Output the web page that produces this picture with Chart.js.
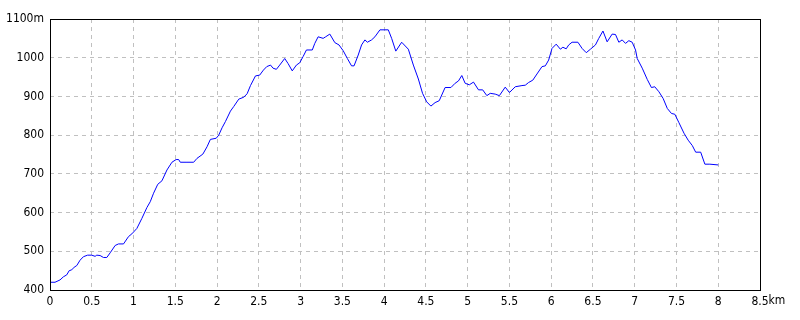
<!DOCTYPE html>
<html>
<head>
<meta charset="utf-8">
<script src="https://cdn.jsdelivr.net/npm/chart.js@4"></script>
<style>
  html, body { margin: 0; padding: 0; background: #fff; }
  #wrap { width: 800px; height: 320px; }
</style>
</head>
<body>
<div id="wrap"><canvas id="profileChart"></canvas></div>
<script>
// distance (km) and elevation (m)
const distKm = [
  0, 0.06, 0.12, 0.16, 0.2, 0.23, 0.26, 0.29, 0.32, 0.36, 0.4, 0.45, 0.5, 0.54, 0.56, 0.6, 0.64, 0.68,
  0.72, 0.78, 0.82, 0.88, 0.94, 0.98, 1.04, 1.1, 1.16, 1.2, 1.24, 1.29, 1.34, 1.4, 1.46, 1.51, 1.54,
  1.56, 1.64, 1.72, 1.76, 1.83, 1.88, 1.92, 1.99, 2.02, 2.06, 2.1, 2.16, 2.2, 2.26, 2.32, 2.36, 2.4,
  2.46, 2.51, 2.555, 2.595, 2.64, 2.67, 2.71, 2.75, 2.81, 2.85, 2.9, 2.95, 2.99, 3.03, 3.07, 3.14,
  3.17, 3.21, 3.27, 3.3, 3.35, 3.41, 3.46, 3.51, 3.56, 3.61, 3.64, 3.69, 3.73, 3.77, 3.8, 3.85, 3.89,
  3.95, 4.05, 4.09, 4.14, 4.21, 4.29, 4.35, 4.41, 4.46, 4.51, 4.56, 4.61, 4.66, 4.73, 4.8, 4.85, 4.89,
  4.93, 4.97, 5.02, 5.07, 5.13, 5.18, 5.23, 5.27, 5.33, 5.38, 5.45, 5.5, 5.57, 5.65, 5.69, 5.73, 5.78,
  5.83, 5.89, 5.93, 5.97, 6.01, 6.06, 6.11, 6.14, 6.18, 6.21, 6.25, 6.32, 6.37, 6.42, 6.47, 6.53, 6.57,
  6.62, 6.67, 6.73, 6.77, 6.81, 6.85, 6.89, 6.93, 6.97, 7.01, 7.03, 7.09, 7.15, 7.2, 7.24, 7.29, 7.34,
  7.39, 7.44, 7.48, 7.53, 7.59, 7.64, 7.69, 7.73, 7.79, 7.84, 7.9, 8.0
];
const elevM = [
  420, 420, 426, 434, 439, 450, 452, 459, 463, 477, 486, 490, 490, 487, 490, 489, 484, 484,
  496, 515, 519, 519, 538, 545, 559, 585, 613, 628, 650, 673, 682, 710, 730, 737, 737,
  730, 730, 730, 740, 751, 770, 789, 792, 800, 819, 835, 862, 874, 893, 898, 907, 928,
  953, 955, 968, 977, 981, 973, 970, 981, 998, 985, 966, 981, 987, 1003, 1020, 1020,
  1037, 1054, 1050, 1054, 1061, 1039, 1033, 1018, 998, 979, 979, 1007, 1033, 1046, 1040, 1046, 1054,
  1072, 1072, 1050, 1017, 1040, 1022, 981, 945, 908, 886, 875, 884, 889, 923, 923, 934, 940,
  954, 934, 930, 937, 917, 917, 902, 908, 906, 902, 924, 910, 925, 928, 929, 936, 942,
  958, 977, 979, 994, 1024, 1035, 1022, 1027, 1023, 1033, 1040, 1040, 1024, 1013, 1022, 1033, 1050,
  1069, 1041, 1061, 1060, 1040, 1046, 1037, 1044, 1040, 1020, 998, 973, 944, 923, 925, 912, 895,
  869, 856, 854, 832, 805, 787, 773, 756, 756, 725, 725, 723
];
const xUnit = 'km';
const yUnit = 'm';

const tickFont = { family: '"Liberation Sans Narrow", "DejaVu Sans Condensed", sans-serif', size: 12 };

const frameBox = {
  id: 'frameBox',
  afterDraw(chart) {
    const { ctx, chartArea: a, scales } = chart;
    ctx.save();
    ctx.strokeStyle = '#000';
    ctx.lineWidth = 1;
    ctx.strokeRect(Math.round(a.left) + 0.5, Math.round(a.top) + 0.5,
      Math.round(a.right - a.left), Math.round(a.bottom - a.top));
    // unit after the last x label
    const x = scales.x;
    const lastVal = x.max;
    ctx.font = tickFont.size + 'px ' + tickFont.family;
    ctx.fillStyle = '#000';
    ctx.textBaseline = 'top';
    ctx.textAlign = 'left';
    const w = ctx.measureText(String(lastVal)).width;
    ctx.fillText(xUnit, x.getPixelForValue(lastVal) + w / 2, a.bottom + 5);
    ctx.restore();
  }
};

new Chart(document.getElementById('profileChart'), {
  type: 'line',
  data: {
    datasets: [{
      data: distKm.map((d, i) => ({ x: d, y: elevM[i] })),
      borderColor: '#0000ff',
      borderWidth: 1,
      pointRadius: 0,
      tension: 0,
      fill: false
    }]
  },
  options: {
    responsive: true,
    maintainAspectRatio: false,
    animation: false,
    layout: { padding: { left: 0, right: 40, top: 19, bottom: 0 } },
    plugins: { legend: { display: false }, tooltip: { enabled: false } },
    scales: {
      x: {
        type: 'linear',
        min: 0,
        max: 8.5,
        afterFit(s) { s.height = 30; },
        grid: { color: '#c0c0c0', drawTicks: false },
        border: { display: false, dash: [4, 4] },
        ticks: {
          stepSize: 0.5,
          padding: 5,
          color: '#000',
          font: tickFont,
          maxRotation: 0,
          autoSkip: false,
          callback: v => String(v)
        }
      },
      y: {
        min: 400,
        max: 1100,
        afterFit(s) { s.width = 50; },
        grid: { color: '#c0c0c0', drawTicks: false },
        border: { display: false, dash: [4, 4] },
        ticks: {
          stepSize: 100,
          padding: 6,
          color: '#000',
          font: tickFont,
          callback: v => v === 1100 ? v + yUnit : String(v)
        }
      }
    }
  },
  plugins: [frameBox]
});
</script>
</body>
</html>
